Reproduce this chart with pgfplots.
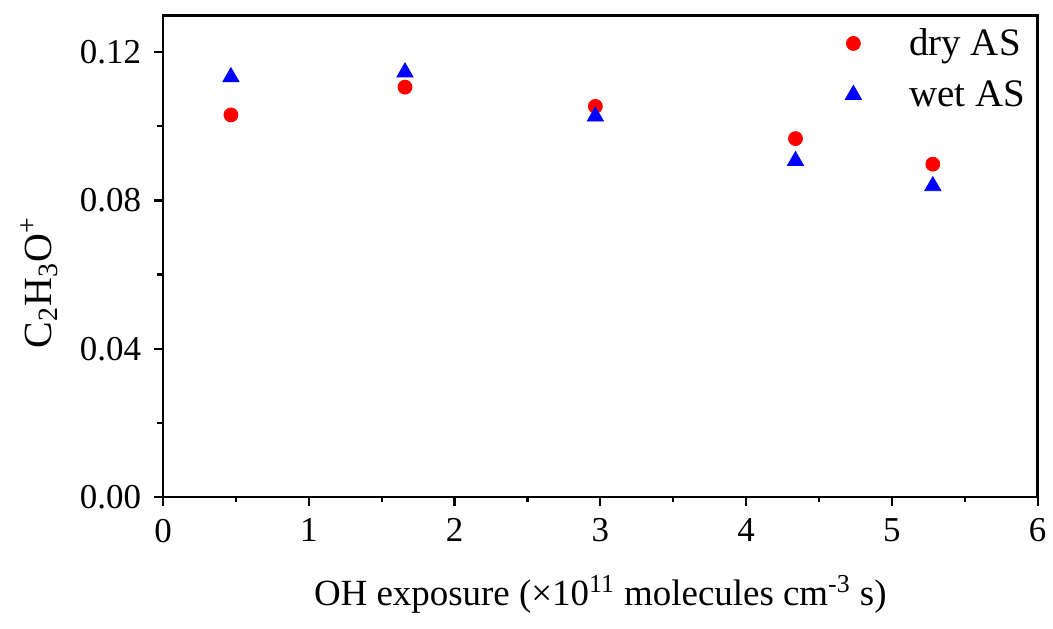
\documentclass[border=0pt]{standalone}
\usepackage{fontspec}
\setmainfont{Liberation Serif}
\usepackage{pgfplots}
\pgfplotsset{compat=1.18}
\begin{document}
\begin{tikzpicture}
\begin{axis}[
  at={(0,0)}, anchor=south west,
  width=438.3pt, height=241.35pt, scale only axis,
  xmin=0, xmax=6, ymin=0, ymax=0.13,
  xtick={0,1,2,3,4,5,6},
  ytick={0,0.04,0.08,0.12},
  minor xtick={0.5,1.5,2.5,3.5,4.5,5.5},
  minor ytick={0.02,0.06,0.10},
  axis line style={line width=1.3pt},
  every tick/.style={black, line width=1.1pt},
  major tick length=4.5pt, minor tick length=2.8pt,
  tick align=outside, tick pos=left,
  /pgf/number format/assume math mode=true,
  tick label style={font=\fontsize{17.5}{20}\selectfont},
  xticklabel style={yshift=-3pt},
  yticklabel style={xshift=-3pt, /pgf/number format/fixed, /pgf/number format/fixed zerofill, /pgf/number format/precision=2},
  scaled y ticks=false,
  xlabel={OH exposure (×10\textsuperscript{11} molecules cm\textsuperscript{-3} s)},
  ylabel={C\textsubscript{2}H\textsubscript{3}O\textsuperscript{+}},
  label style={font=\fontsize{18.5}{22}\selectfont},
  xlabel style={at={(axis description cs:0.5,0)}, anchor=center, yshift=-49pt},
  ylabel style={at={(axis description cs:0,0.445)}, anchor=center, yshift=62pt, font=\fontsize{20}{24}\selectfont},
  legend style={at={(0.9975,0.99)}, anchor=north east, draw=none, fill=none,
    font=\fontsize{19.5}{23}\selectfont, row sep=7pt},
  legend cell align=left,
]
\addplot[only marks, mark=*, mark size=3.5pt, color=red, mark options={fill=red, draw=red}]
  coordinates {(0.466,0.1031) (1.66,0.1106) (2.966,0.1054) (4.339,0.0967) (5.281,0.0898)};
\addlegendentry{\hspace{22pt}dry AS}
\addplot[only marks, mark=triangle*, mark size=4.7pt, color=blue, mark options={fill=blue, draw=blue}]
  coordinates {(0.466,0.1133) (1.66,0.1146) (2.966,0.1027) (4.339,0.0907) (5.281,0.0839)};
\addlegendentry{\hspace{22pt}wet AS}
\end{axis}
\path[use as bounding box] (-81.7pt,-66pt) rectangle (444.8pt,249pt);
\end{tikzpicture}
\end{document}
